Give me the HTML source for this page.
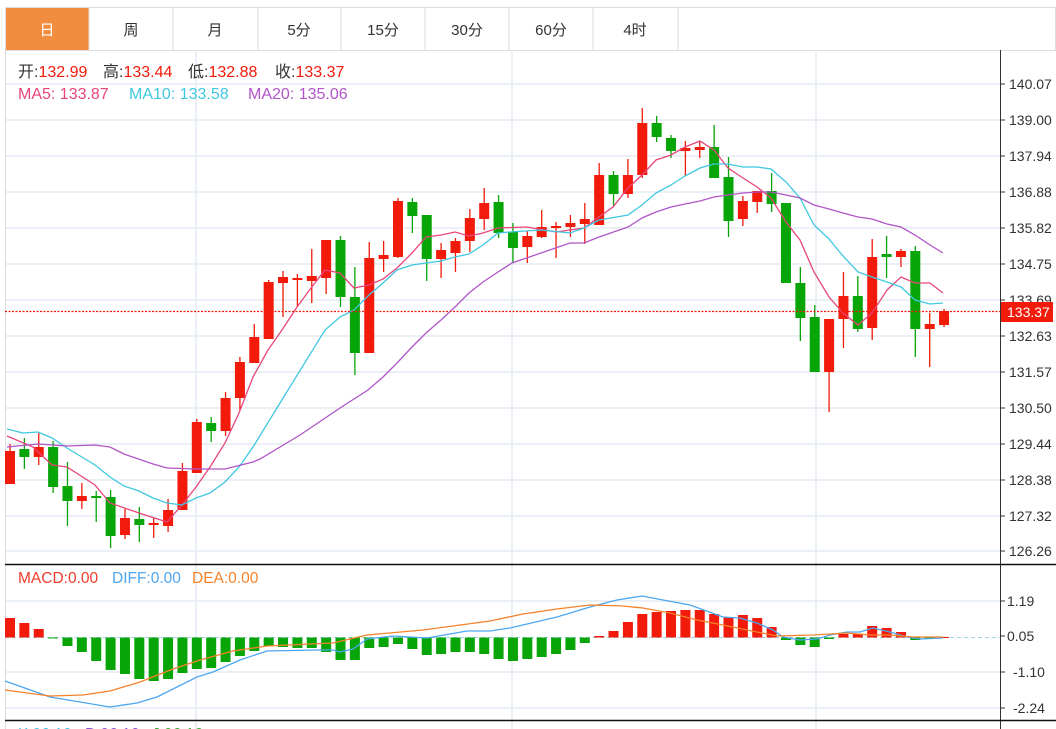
<!DOCTYPE html>
<html><head><meta charset="utf-8">
<style>
html,body{margin:0;padding:0;background:#fff;width:1056px;height:729px;overflow:hidden;font-family:"Liberation Sans","Noto Sans CJK SC",sans-serif;}
svg{position:absolute;left:0;top:0}
text{font-family:"Liberation Sans","Noto Sans CJK SC",sans-serif}
</style></head><body>
<svg id="s" width="1056" height="729" viewBox="0 0 1056 729" xmlns="http://www.w3.org/2000/svg">
<rect x="5.5" y="7.5" width="1050" height="43" fill="#fff" stroke="#ddd"/>
<rect x="6" y="8" width="83" height="42" fill="#f28c3f"/>
<g stroke="#ddd"><line x1="173" y1="8" x2="173" y2="50"/><line x1="89" y1="8" x2="89" y2="50"/><line x1="258" y1="8" x2="258" y2="50"/><line x1="341" y1="8" x2="341" y2="50"/><line x1="425" y1="8" x2="425" y2="50"/><line x1="509" y1="8" x2="509" y2="50"/><line x1="593" y1="8" x2="593" y2="50"/><line x1="678" y1="8" x2="678" y2="50"/></g>
<g font-size="15" text-anchor="middle" fill="#333">
<text x="47" y="35" fill="#fff">日</text><text x="131" y="35">周</text><text x="215" y="35">月</text><text x="299" y="35">5分</text><text x="383" y="35">15分</text><text x="467" y="35">30分</text><text x="551" y="35">60分</text><text x="635" y="35">4时</text>
</g>
<g id="grid" stroke="#e3ebf2" stroke-width="1.5"></g>
<line x1="5.5" y1="50" x2="5.5" y2="729" stroke="#ddd"/>
<line x1="1000.5" y1="50" x2="1000.5" y2="729" stroke="#333"/>
<line x1="5" y1="564.5" x2="1056" y2="564.5" stroke="#111" stroke-width="1.5"/>
<line x1="5" y1="720.5" x2="1056" y2="720.5" stroke="#111" stroke-width="1.5"/>
<g id="axis" font-size="14" fill="#333"></g>
<g id="c"></g>
<polyline fill="none" stroke="#e8457a" stroke-width="1.3" points="7,436 33,447 52,465 67,467 95,485 110,503 139,513 167,522 182,505 196,487 210,467 225,443 239,413 253,377 268,350 282,330 297,307 311,288 325,270 340,273 354,288 369,285 383,279 397,268 412,253 426,237 441,235 455,232 469,236 483,233 498,228 527,227 556,232 584,228 599,217 613,207 628,188 642,175 656,160 671,155 685,147 700,141 714,150 728,168 743,178 757,187 771,198 786,222 800,240 814,272 829,297 843,313 858,325 872,313 887,290 901,277 915,283 930,283 943,293"/>
<polyline fill="none" stroke="#3fc8e0" stroke-width="1.3" points="7,429 23,433 38,432 52,438 67,448 95,465 110,477 124,486 139,491 153,498 167,503 182,505 196,498 210,493 225,482 239,467 253,447 288,390 325,330 340,317 354,310 369,295 383,283 397,270 412,265 426,263 441,261 455,257 469,254 483,245 498,233 510,232 541,230 570,233 584,228 599,220 628,215 642,205 656,193 671,185 685,176 700,168 714,164 728,164 743,167 757,167 771,169 786,182 800,198 814,225 829,239 843,256 858,272 872,277 887,282 901,287 915,300 930,304 943,303"/>
<polyline fill="none" stroke="#b155c8" stroke-width="1.3" points="7,447 38,444 67,446 95,445 110,447 124,454 153,464 167,468 196,469 225,469 253,462 260,459 300,435 340,408 368,390 383,377 397,363 412,347 426,333 441,320 455,307 469,293 483,282 498,272 512,263 541,253 570,243 584,243 599,237 628,227 642,218 656,212 671,207 685,204 700,201 714,197 728,195 743,193 757,192 771,192 786,195 800,198 814,205 829,209 843,213 858,217 872,219 887,224 901,227 915,235 930,245 943,253"/>
<line x1="5" y1="311.5" x2="1000" y2="311.5" stroke="#f21a0a" stroke-width="1.3" stroke-dasharray="2,1.5"/>
<rect x="1001" y="302" width="52" height="20" fill="#f21a0a"/>
<text x="1007" y="317" font-size="14" fill="#fff">133.37</text>
<line x1="5" y1="637.5" x2="1000" y2="637.5" stroke="#9fd3ee" stroke-dasharray="4,3"/>
<g id="m"></g>
<polyline fill="none" stroke="#4da6f0" stroke-width="1.3" points="5,681 50,697 110,707 137,703 157,697 197,677 213,672 240,660 267,651 317,650 333,650 340,652 353,649 367,639 393,636 427,638 467,631 490,631 510,628 557,617 590,607 617,600 642,596 663,600 690,605 723,617 740,618 757,623 773,630 783,637 800,640 817,639 830,635 847,632 860,632 873,628 890,632 907,637 920,639 943,638"/>
<polyline fill="none" stroke="#f5822a" stroke-width="1.3" points="5,690 50,696 83,695 110,691 140,682 173,669 200,660 233,651 267,646 333,643 367,635 423,630 490,621 523,614 557,609 590,605 623,606 643,608 670,613 697,620 723,625 757,632 777,636 813,635 847,633 870,635 890,635 913,637 943,637"/>
<g font-size="16">
<text x="18" y="77" fill="#333">开:<tspan fill="#f21a0a">132.99</tspan></text>
<text x="103" y="77" fill="#333">高:<tspan fill="#f21a0a">133.44</tspan></text>
<text x="188" y="77" fill="#333">低:<tspan fill="#f21a0a">132.88</tspan></text>
<text x="275" y="77" fill="#333">收:<tspan fill="#f21a0a">133.37</tspan></text>
<text x="18" y="99" fill="#e8457a">MA5: 133.87</text>
<text x="129" y="99" fill="#3fc8e0">MA10: 133.58</text>
<text x="248" y="99" fill="#b155c8">MA20: 135.06</text>
</g>
<g font-size="15.5">
<text x="18" y="583" fill="#f03a2a">MACD:0.00</text>
<text x="112" y="583" fill="#4da6f0">DIFF:0.00</text>
<text x="192" y="583" fill="#f5822a">DEA:0.00</text>
<text x="18" y="739" fill="#3fc8e0">K:96.16</text>
<text x="85" y="739" fill="#8a55d0">D:96.16</text>
<text x="152" y="739" fill="#3aa83a">J:96.16</text>
</g>
</svg>
<script>
var NS="http://www.w3.org/2000/svg",s=document.getElementById('s');
function el(p,t,a){var e=document.createElementNS(NS,t);for(var k in a)e.setAttribute(k,a[k]);p.appendChild(e);return e;}
var g=document.getElementById('grid');
var ys=[84,120,156,192,228,264,300,336,372,408,444,480,516,551];
ys.forEach(function(y){el(g,'line',{x1:5,y1:y,x2:1000,y2:y});});
[601,672,708].forEach(function(y){el(g,'line',{x1:5,y1:y,x2:1000,y2:y});});
[196,512,816].forEach(function(x){el(g,'line',{x1:x,y1:50,x2:x,y2:729});});
var ax=document.getElementById('axis');
var lb=["140.07","139.00","137.94","136.88","135.82","134.75","133.69","132.63","131.57","130.50","129.44","128.38","127.32","126.26"];
ys.forEach(function(y,i){el(ax,'line',{x1:1001,y1:y,x2:1005,y2:y,stroke:'#333'});var t=el(ax,'text',{x:1009,y:y+5});t.textContent=lb[i];});
[[601,"1.19"],[636,"0.05"],[672,"-1.10"],[708,"-2.24"]].forEach(function(a){el(ax,'line',{x1:1001,y1:a[0],x2:1005,y2:a[0],stroke:'#333'});var t=el(ax,'text',{x:(a[1][0]=='-'?1013:1007),y:a[0]+5});t.textContent=a[1];});
var R="#f21a0a",G="#08a508";
var C=[[451,484,444,484,R],[449,457,438,469,G],[447,457,433,465,R],[447,487,441,493,G],[486,501,462,526,G],[496,501,483,509,R],[496,498,491,522,G],[497,536,490,548,G],[518,535,509,539,R],[519,525,507,542,G],[523,525,518,538,R],[510,526,499,532,R],[471,510,463,510,R],[422,473,419,473,R],[423,431,417,442,G],[398,431,392,436,R],[362,398,357,410,R],[337,363,324,363,R],[282,339,280,339,R],[277,283,271,317,R],[278,279,274,307,R],[276,281,249,303,R],[240,278,240,294,R],[240,297,236,307,G],[297,353,267,375,G],[258,353,242,353,R],[255,259,241,272,R],[201,257,198,258,R],[202,216,198,233,G],[215,259,215,281,G],[250,259,243,278,R],[241,253,238,272,R],[218,241,209,252,R],[203,219,188,230,R],[202,233,195,238,G],[232,248,223,263,G],[236,247,231,263,R],[227,237,210,238,R],[226,228,222,258,R],[223,227,215,237,R],[219,224,203,244,R],[175,225,163,225,R],[175,194,171,206,G],[175,194,159,198,R],[123,175,108,178,R],[123,137,116,142,G],[138,151,135,158,G],[148,151,141,176,R],[147,150,141,158,R],[147,178,125,178,G],[177,221,157,237,G],[201,219,196,226,R],[191,202,191,213,R],[191,204,173,212,G],[203,283,203,283,G],[283,318,267,341,G],[317,372,305,372,G],[319,372,319,412,R],[296,319,272,348,R],[296,329,276,332,G],[257,328,239,340,R],[254,257,236,278,G],[251,257,249,267,R],[251,329,246,357,G],[324,329,313,367,R],[311,325,309,327,R]];
var c=document.getElementById('c');
C.forEach(function(d,i){var x=10+14.37*i;el(c,'line',{x1:x,y1:d[2],x2:x,y2:d[3],stroke:d[4],'stroke-width':1.3});var h=Math.max(d[1]-d[0],2);el(c,'rect',{x:x-5,y:d[0],width:10,height:h,fill:d[4]});});
var M=[618,623,629,638,646,652,661,670,674,679,681,679,673,669,668,662,656,651,646,647,648,648,652,660,660,648,647,644,649,655,654,652,652,654,659,661,659,657,654,650,643,636,631,622,614,612,611,610,610,614,617,615,618,627,640,645,647,639,634,634,626,628,632,640,638,637];
var m=document.getElementById('m');
M.forEach(function(v,i){var x=10+14.37*i;var z=637.5;var t=Math.min(v,z),h=Math.abs(v-z);if(h<1)h=1;el(m,'rect',{x:x-5,y:t,width:10,height:h,fill:v<z?R:G});});
</script>
</body></html>
